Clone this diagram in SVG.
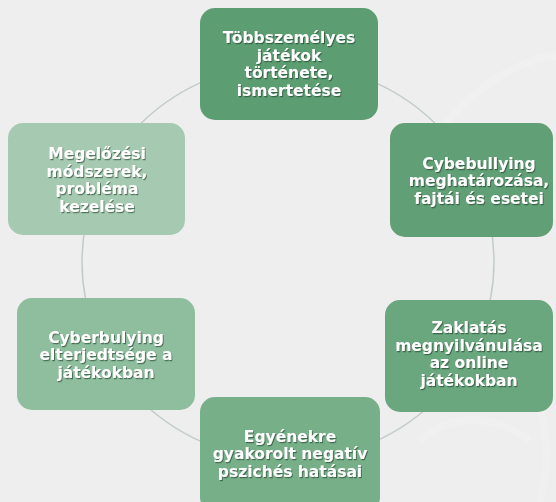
<svg xmlns="http://www.w3.org/2000/svg" width="556" height="502" viewBox="0 0 556 502">
  <defs>
    <filter id="txtShadow" x="-10%" y="-20%" width="130%" height="150%">
      <feDropShadow dx="1" dy="1.2" stdDeviation="0.7" flood-color="#1e3a28" flood-opacity="0.6"/>
    </filter>
  </defs>
  <style>
    .bg { fill: #eeeeee; }
    .deco { fill: none; stroke: #f6f6f6; stroke-width: 8; opacity: 0.3; }
    .ring { fill: none; stroke: #c2ccc8; stroke-width: 1.5; }
    .box { stroke: none; }
    .lbl { font-family: "DejaVu Sans", Verdana, sans-serif; font-weight: bold; font-size: 15.5px; fill: #ffffff; text-anchor: middle; filter: url(#txtShadow); }
  </style>

  <!-- background with faint swirl ornament -->
  <rect class="bg" x="0" y="0" width="556" height="502"/>
  <path class="deco" d="M 440 130 Q 500 60 560 55"/>
  <path class="deco" d="M 420 440 Q 470 400 530 440"/>
  <path class="deco" d="M 520 380 Q 560 420 540 502"/>

  <!-- connectors: the cycle ring behind the nodes -->
  <g id="connectors">
    <ellipse class="ring" cx="288" cy="262" rx="206" ry="198"/>
  </g>

  <g id="node-tobbszemelyes">
    <rect class="box" x="200" y="8" width="178" height="112" rx="15" fill="#5c9d72"/>
    <text class="lbl" x="289" y="43">Többszemélyes</text>
    <text class="lbl" x="289" y="60.5">játékok</text>
    <text class="lbl" x="289" y="78">története,</text>
    <text class="lbl" x="289" y="95.5">ismertetése</text>
  </g>

  <g id="node-cybebullying">
    <rect class="box" x="390" y="123" width="163" height="114" rx="15" fill="#619f76"/>
    <text class="lbl" x="479" y="168.5">Cybebullying</text>
    <text class="lbl" x="479" y="186">meghatározása,</text>
    <text class="lbl" x="479" y="203.5">fajtái és esetei</text>
  </g>

  <g id="node-zaklatas">
    <rect class="box" x="385" y="300" width="168" height="112" rx="15" fill="#6aa67e"/>
    <text class="lbl" x="469" y="333">Zaklatás</text>
    <text class="lbl" x="469" y="350.5">megnyilvánulása</text>
    <text class="lbl" x="469" y="368">az online</text>
    <text class="lbl" x="469" y="385.5">játékokban</text>
  </g>

  <g id="node-egyenekre">
    <rect class="box" x="200" y="397" width="180" height="115" rx="15" fill="#77af89"/>
    <text class="lbl" x="290" y="441.5">Egyénekre</text>
    <text class="lbl" x="290" y="459">gyakorolt negatív</text>
    <text class="lbl" x="290" y="476.5">pszichés hatásai</text>
  </g>

  <g id="node-elterjedtseg">
    <rect class="box" x="17" y="298" width="178" height="112" rx="15" fill="#8fbe9e"/>
    <text class="lbl" x="106" y="342.5">Cyberbulying</text>
    <text class="lbl" x="106" y="360">elterjedtsége a</text>
    <text class="lbl" x="106" y="377.5">játékokban</text>
  </g>

  <g id="node-megelozesi">
    <rect class="box" x="8" y="123" width="177" height="112" rx="15" fill="#a6cab1"/>
    <text class="lbl" x="97" y="159">Megelőzési</text>
    <text class="lbl" x="97" y="176.5">módszerek,</text>
    <text class="lbl" x="97" y="194">probléma</text>
    <text class="lbl" x="97" y="211.5">kezelése</text>
  </g>
</svg>
